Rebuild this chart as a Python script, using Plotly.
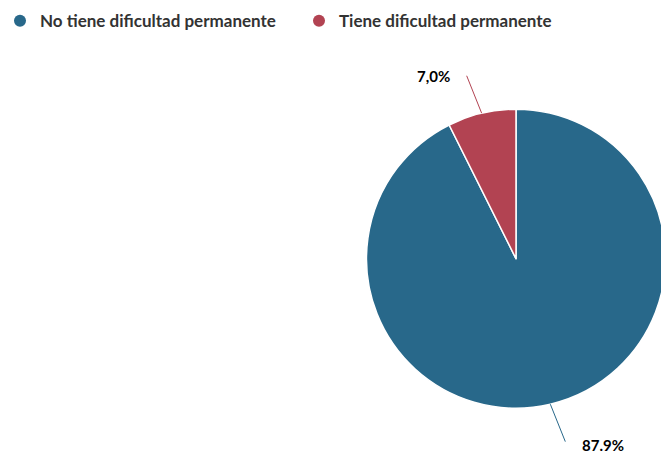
import math
import plotly.graph_objects as go

categories = ["No tiene dificultad permanente", "Tiene dificultad permanente"]
values = [87.9, 7.0]
value_labels = ["87.9%", "7,0%"]
colors = ["#28688a", "#b24352"]

W, H = 672, 452
cx, cy, r = 516.0, 258.7, 149.5

fig = go.Figure()
fig.add_trace(go.Pie(
    labels=categories, values=values, sort=False, direction="clockwise",
    rotation=0, textinfo="none", hoverinfo="label+percent", showlegend=False,
    marker=dict(colors=colors, line=dict(color="white", width=1.5)),
    domain=dict(x=[(cx - r) / W, (cx + r) / W], y=[1 - (cy + r) / H, 1 - (cy - r) / H]),
))
for name, col in zip(categories, colors):
    fig.add_trace(go.Scatter(x=[None], y=[None], mode="markers", name=name,
                             marker=dict(symbol="circle", size=15, color=col)))

# connector + label per slice, angle computed from data
total = sum(values)
start = 0.0
annots = []
for val, lab, col in zip(values, value_labels, colors):
    frac = val / total
    mid = (start + frac / 2) * 2 * math.pi
    start += frac
    s, c = math.sin(mid), math.cos(mid)
    side = 1 if s > 0 else -1
    px, py = cx + r * s, cy - r * c
    ex, ey = cx + (r + 40) * s + side * 6.4, cy - (r + 40) * c
    annots.append(dict(x=px / W, y=1 - py / H, xref="paper", yref="paper",
                       ax=ex - px, ay=ey - py, axref="pixel", ayref="pixel",
                       text="", showarrow=True, arrowhead=0, arrowwidth=1, arrowcolor=col,
                       standoff=0, startstandoff=0))
    annots.append(dict(x=(ex + side * 14) / W, y=1 - (ey + 2) / H, xref="paper", yref="paper",
                       text=lab, showarrow=False, xanchor="left" if side > 0 else "right",
                       yanchor="middle",
                       font=dict(family="Lato", size=15, color="#000000", weight="bold")))

fig.update_layout(
    width=W, height=H, margin=dict(l=0, r=0, t=0, b=0),
    paper_bgcolor="white", plot_bgcolor="white",
    xaxis=dict(visible=False), yaxis=dict(visible=False),
    showlegend=True,
    legend=dict(orientation="h", x=0, y=0.993, xanchor="left", yanchor="top",
                font=dict(family="Lato", size=17, color="#333333", weight="bold"),
                itemsizing="constant", entrywidth=254, entrywidthmode="pixels"),
    annotations=annots,
)

fig.write_html("out.html", config={"displayModeBar": False},
               post_script="document.body.style.margin='0';document.body.style.overflow='hidden';document.documentElement.style.overflow='hidden';")
